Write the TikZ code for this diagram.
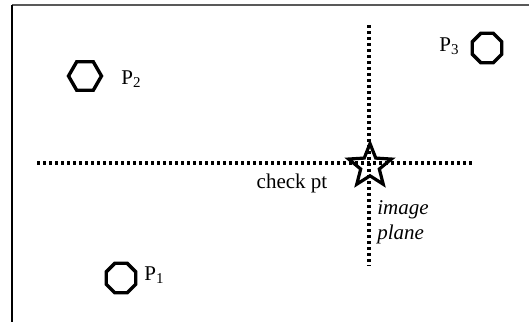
\documentclass[tikz,border=0pt]{standalone}
\usepackage{fontspec}
\setmainfont{Liberation Serif}
\usetikzlibrary{shapes.geometric}
\newcommand{\ptsub}[1]{\raisebox{-0.35ex}{\fontsize{7.5}{8}\selectfont #1}}
\begin{document}
\begin{tikzpicture}[x=0.5pt,y=-0.5pt,
  font=\fontsize{10.5}{12}\selectfont,
  dotline/.style={line width=1.6pt,dash pattern=on 1.4pt off 1.6pt},
  hexpt/.style={draw,line width=1.7pt,regular polygon,regular polygon sides=6,minimum size=16.5pt,inner sep=0pt},
  octpt/.style={draw,line width=1.7pt,regular polygon,regular polygon sides=8,minimum size=16pt,inner sep=0pt},
  lbl/.style={inner sep=0pt}]
\useasboundingbox (0,0) rectangle (529,322);
% frame
\draw[line width=1pt,gray!70!black] (12,5) -- (529,5);
\draw[line width=1.1pt] (12,5) -- (12,322);
% axes
\coordinate (hl) at (37,163);
\coordinate (hr) at (474,163);
\coordinate (vt) at (369,25);
\coordinate (vb) at (369,266);
\draw[dotline] (hl) -- (hr);
\draw[dotline] (vt) -- (vb);
% star
\node[star,star points=5,star point ratio=2.3,minimum size=22.5pt,inner sep=0pt,draw,line width=1.6pt] (chk) at (370,166) {};
\node[lbl] (chklbl) at (292,183) {check pt};
\node[lbl,anchor=west,align=left,font=\fontsize{10.5}{12.5}\selectfont\itshape] (ipl) at (377,222) {image\\plane};
% points
\node[hexpt] (p2) at (85,76) {};
\node[lbl] (p2l) at (131,79) {P\ptsub{2}};
\node[octpt] (p3) at (487,48) {};
\node[lbl] (p3l) at (449,46) {P\ptsub{3}};
\node[octpt] (p1) at (121,278) {};
\node[lbl] (p1l) at (154,275) {P\ptsub{1}};
\end{tikzpicture}
\end{document}
